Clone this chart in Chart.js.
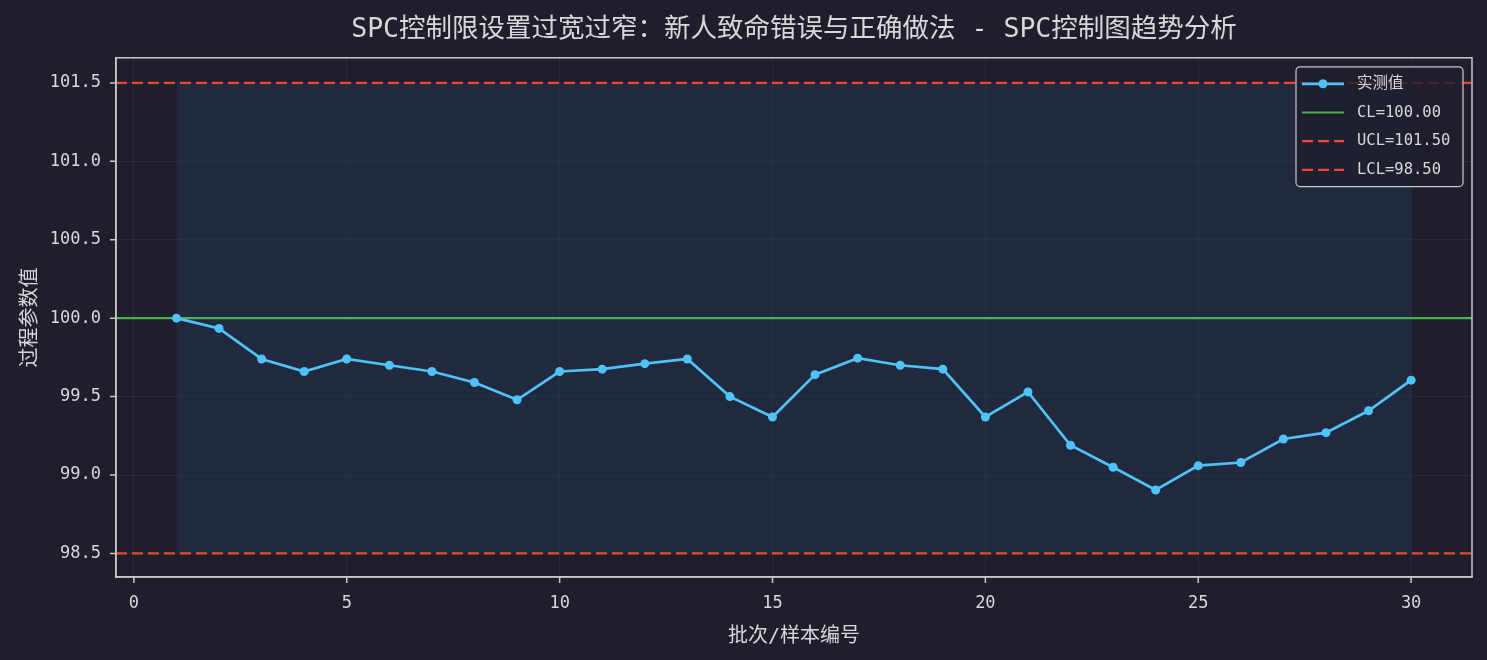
<!DOCTYPE html>
<html>
<head>
<meta charset="utf-8">
<script src="https://cdn.jsdelivr.net/npm/chart.js@4/dist/chart.umd.min.js"></script>
<style>
  html, body { margin: 0; padding: 0; background: #1e1e2d; }
  #wrap { width: 1487px; height: 660px; }
</style>
</head>
<body>
<div id="wrap"><canvas id="spc"></canvas></div>
<script>

const batches = [1,2,3,4,5,6,7,8,9,10,11,12,13,14,15,16,17,18,19,20,21,22,23,24,25,26,27,28,29,30];
const measured = [100.00,99.935,99.74,99.66,99.74,99.70,99.66,99.59,99.48,99.66,99.675,99.71,99.74,99.50,99.37,
                  99.64,99.745,99.70,99.675,99.37,99.53,99.19,99.05,98.905,99.06,99.08,99.23,99.27,99.41,99.605];
const CL = 100.0;
const UCL = 101.5;
const LCL = 98.5;
const xRange = [-0.42, 31.43];
const yRange = [98.35, 101.66];
const xTicks = [0,5,10,15,20,25,30];
const yTicks = [98.5,99.0,99.5,100.0,100.5,101.0,101.5];

const mono = "'DejaVu Sans Mono', 'Noto Sans CJK SC', monospace";
const textColor = "#d8d8d8";

function hline(v){
  return [{x: xRange[0], y: v}, {x: xRange[1], y: v}];
}

// legend drawn inside the plot, top right
const innerLegend = {
  id: "innerLegend",
  afterDraw(chart){
    const ctx = chart.ctx;
    const items = chart.data.datasets.filter(d => !d.noLegend);
    const area = chart.chartArea;
    const w = 167, rowH = 28.7;
    const h = items.length * rowH + 5;
    const x0 = area.right - 9 - w, y0 = area.top + 9;
    ctx.save();
    ctx.fillStyle = "rgba(30,30,45,0.8)";
    ctx.strokeStyle = "#c8c8c8";
    ctx.lineWidth = 1.2;
    ctx.beginPath();
    ctx.roundRect(x0, y0, w, h, 4);
    ctx.fill();
    ctx.stroke();
    ctx.font = "15.5px " + mono;
    ctx.textBaseline = "middle";
    items.forEach((d, i) => {
      const cy = y0 + 17 + i * rowH;
      ctx.strokeStyle = d.borderColor;
      ctx.lineWidth = d.borderWidth;
      ctx.setLineDash(d.borderDash || []);
      ctx.beginPath();
      ctx.moveTo(x0 + 6, cy);
      ctx.lineTo(x0 + 48, cy);
      ctx.stroke();
      ctx.setLineDash([]);
      if (d.pointRadius > 0){
        ctx.fillStyle = d.borderColor;
        ctx.beginPath();
        ctx.arc(x0 + 27, cy, d.pointRadius, 0, Math.PI * 2);
        ctx.fill();
      }
      ctx.fillStyle = textColor;
      ctx.fillText(d.label, x0 + 61, cy);
    });
    ctx.restore();
  }
};

new Chart("spc", {
  type: "line",
  data: {
    datasets: [
      {
        label: "实测值",
        data: batches.map((b, i) => ({x: b, y: measured[i]})),
        borderColor: "#4fc3f7",
        backgroundColor: "#4fc3f7",
        borderWidth: 2.7,
        pointRadius: 4.5,
        pointBorderWidth: 0,
        order: 0
      },
      {
        label: "CL=" + CL.toFixed(2),
        data: hline(CL),
        borderColor: "#4caf50",
        borderWidth: 2.2,
        pointRadius: 0,
        order: 1
      },
      {
        label: "UCL=" + UCL.toFixed(2),
        data: hline(UCL),
        borderColor: "#f44336",
        borderWidth: 2.2,
        borderDash: [11, 5],
        pointRadius: 0,
        order: 1
      },
      {
        label: "LCL=" + LCL.toFixed(2),
        data: hline(LCL),
        borderColor: "#f44336",
        borderWidth: 2.2,
        borderDash: [11, 5],
        pointRadius: 0,
        order: 1
      },
      {
        // control band between limits over the sampled batches
        label: "band",
        noLegend: true,
        data: [{x: batches[0], y: UCL}, {x: batches[batches.length - 1], y: UCL}],
        borderWidth: 0,
        pointRadius: 0,
        backgroundColor: "rgba(38,55,85,0.45)",
        fill: {value: LCL},
        order: 5
      }
    ]
  },
  options: {
    responsive: true,
    maintainAspectRatio: false,
    animation: false,
    layout: {padding: {left: 0, right: 15, top: 0, bottom: 0}},
    plugins: {
      legend: {display: false},
      tooltip: {enabled: false},
      title: {
        display: true,
        fullSize: false,
        text: "SPC控制限设置过宽过窄：新人致命错误与正确做法 - SPC控制图趋势分析",
        color: textColor,
        font: {family: mono, size: 26.5, weight: "normal"},
        padding: {top: 14, bottom: 12}
      }
    },
    scales: {
      x: {
        type: "linear",
        min: xRange[0],
        max: xRange[1],
        afterBuildTicks: s => { s.ticks = xTicks.map(v => ({value: v})); },
        afterFit: s => { s.height = 83; },
        ticks: {color: textColor, font: {family: mono, size: 17}, padding: 16, callback: v => v},
        grid: {color: "rgba(255,255,255,0.05)", drawTicks: false},
        border: {color: "#c8c8c8", width: 1.5},
        title: {display: true, text: "批次/样本编号", color: textColor,
                font: {family: mono, size: 20}, padding: {top: 4, bottom: 11}}
      },
      y: {
        type: "linear",
        min: yRange[0],
        max: yRange[1],
        afterBuildTicks: s => { s.ticks = yTicks.map(v => ({value: v})); },
        afterFit: s => { s.width = 116; },
        ticks: {color: textColor, font: {family: mono, size: 17}, padding: 15, callback: v => v.toFixed(1)},
        grid: {color: "rgba(255,255,255,0.05)", drawTicks: false},
        border: {color: "#c8c8c8", width: 1.5},
        title: {display: true, text: "过程参数值", color: textColor,
                font: {family: mono, size: 20}, padding: {top: 19, bottom: 4}}
      }
    }
  },
  plugins: [innerLegend, {
    id: "frame",
    afterDraw(chart){
      const {ctx, chartArea: a, scales} = chart;
      ctx.save();
      ctx.strokeStyle = "#c8c8c8";
      ctx.lineWidth = 1.5;
      ctx.strokeRect(a.left, a.top, a.right - a.left, a.bottom - a.top);
      ctx.beginPath();
      xTicks.forEach(v => { const px = scales.x.getPixelForValue(v); ctx.moveTo(px, a.bottom); ctx.lineTo(px, a.bottom + 6); });
      yTicks.forEach(v => { const py = scales.y.getPixelForValue(v); ctx.moveTo(a.left, py); ctx.lineTo(a.left - 6, py); });
      ctx.stroke();
      ctx.restore();
    }
  }]
});
</script>
</body>
</html>
